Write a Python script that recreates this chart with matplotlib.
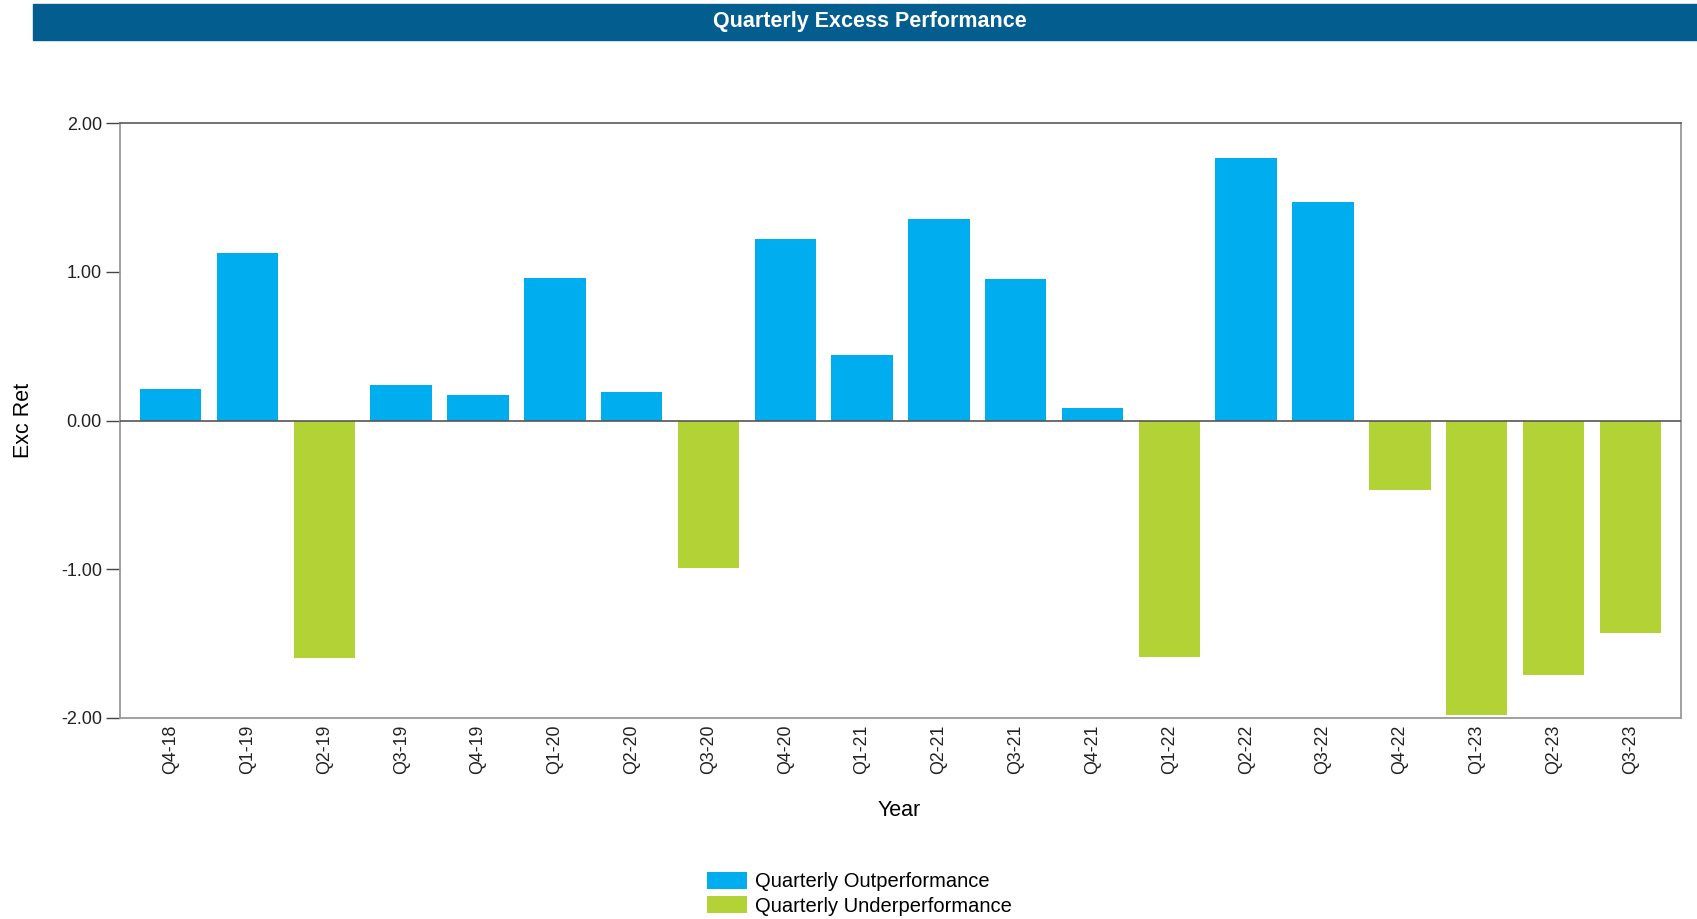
import matplotlib.pyplot as plt
import numpy as np
from matplotlib.patches import Rectangle

quarters = ['Q4-18', 'Q1-19', 'Q2-19', 'Q3-19', 'Q4-19', 'Q1-20', 'Q2-20', 'Q3-20',
            'Q4-20', 'Q1-21', 'Q2-21', 'Q3-21', 'Q4-21', 'Q1-22', 'Q2-22', 'Q3-22',
            'Q4-22', 'Q1-23', 'Q2-23', 'Q3-23']
exc_ret = [0.21, 1.13, -1.60, 0.24, 0.175, 0.96, 0.19, -0.99,
           1.22, 0.44, 1.355, 0.955, 0.087, -1.595, 1.77, 1.47,
           -0.47, -1.98, -1.71, -1.43]
yticks = [-2.0, -1.0, 0.0, 1.0, 2.0]

blue = '#00AEEF'
green = '#B3D236'
plt.rcParams['font.family'] = ['Liberation Sans', 'DejaVu Sans']

vals = np.array(exc_ret)
x = np.arange(len(quarters))
pos = vals >= 0

fig = plt.figure(figsize=(16.97, 9.19), dpi=100)
ax = fig.add_axes([0.0707, 0.2191, 0.9199, 0.6466])

ax.bar(x[pos], vals[pos], width=0.8, color=blue, label='Quarterly Outperformance', zorder=2)
ax.bar(x[~pos], vals[~pos], width=0.8, color=green, label='Quarterly Underperformance', zorder=2)
ax.axhline(0, color='#555555', lw=1.2, zorder=3)

ax.set_xlim(-0.66, len(quarters) - 1 + 0.66)
ax.set_ylim(-2, 2)
ax.set_yticks(yticks)
ax.set_yticklabels(['%.2f' % t for t in yticks], fontsize=13, color='#222222')
ax.set_xticks(x)
ax.set_xticklabels(quarters, rotation=90, fontsize=12.8, color='#222222')
ax.tick_params(axis='x', length=0, pad=5)
ax.tick_params(axis='y', length=10, width=1, color='#444444', pad=3)
for s in ax.spines.values():
    s.set_color('#999999')
    s.set_linewidth(1.3)
ax.spines['top'].set_color('#666666')

# axis titles
fig.text(0.0141, 0.542, 'Exc Ret', fontsize=15.5, rotation=90, ha='center', va='center')
fig.text(0.530, 0.118, 'Year', fontsize=15.5, ha='center', va='center')

# title bar
fig.patches.append(Rectangle((0.0197, 0.9565), 0.9803, 0.0388, transform=fig.transFigure,
                             color='#035E8F', zorder=0))
fig.text(0.5127, 0.9765, 'Quarterly Excess Performance', color='white', fontsize=15.5,
         fontweight='bold', ha='center', va='center')

fig.legend(loc='upper left', bbox_to_anchor=(0.4107, 0.062), bbox_transform=fig.transFigure,
           frameon=False, fontsize=14.5, handlelength=2.0, handleheight=0.9,
           handletextpad=0.4, labelspacing=0.25, borderpad=0)

plt.savefig('out.png', dpi=100)
